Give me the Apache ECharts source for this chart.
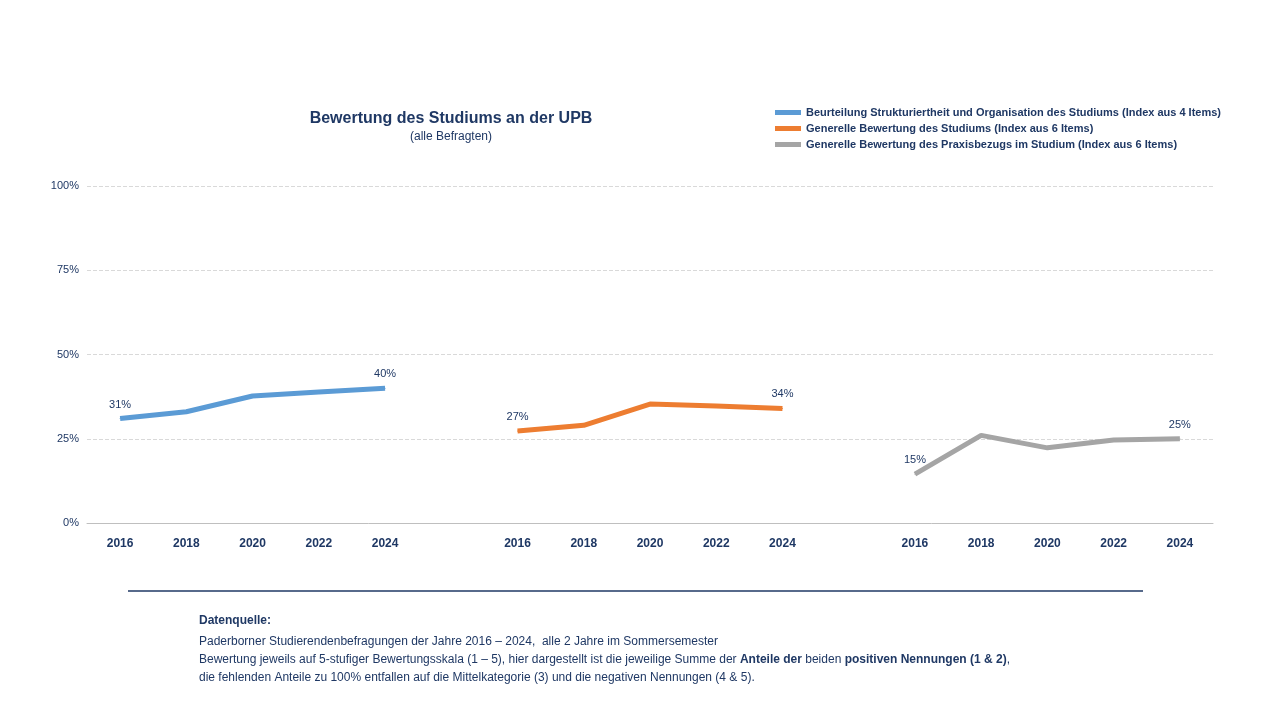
<!DOCTYPE html>
<html><head><meta charset="utf-8">
<script src="https://cdn.jsdelivr.net/npm/echarts@6/dist/echarts.min.js"></script>
<style>html,body{margin:0;background:#fff}#c{width:1273px;height:717px}</style>
</head><body><div id="c"></div>
<script>
var years = ['2016','2018','2020','2022','2024'];
var categories = years.concat(['']).concat(years).concat([' ']).concat(years);
var struktur = [31, 33, 37.7, 38.9, 40];
var bewertung = [27.3, 29, 35.3, 34.7, 34];
var praxis = [14.5, 26, 22.3, 24.6, 25];
var yTicks = [0, 25, 50, 75, 100];
var names = [
  'Beurteilung Strukturiertheit und Organisation des Studiums (Index aus 4 Items)',
  'Generelle Bewertung des Studiums (Index aus 6 Items)',
  'Generelle Bewertung des Praxisbezugs im Studium (Index aus 6 Items)'
];
var colors = ['#5B9BD5', '#ED7D31', '#A5A5A5'];
var navy = '#1F3864';
var font = 'Liberation Sans';

function place(vals, offset){
  var arr = [];
  for (var i = 0; i < categories.length; i++) arr.push(null);
  vals.forEach(function(v, i){ arr[offset + i] = v; });
  return arr;
}
function labelFn(offset){
  return function(p){
    if (p.dataIndex === offset || p.dataIndex === offset + 4) return Math.round(p.value) + '%';
    return '';
  };
}
var series = [struktur, bewertung, praxis].map(function(vals, k){
  var off = k * 6;
  return {
    name: names[k], type: 'line', data: place(vals, off), symbol: 'none', showSymbol: false,
    lineStyle: {width: 5, color: colors[k]}, itemStyle: {color: colors[k]},
    label: {show: true, position: 'top', distance: 8, formatter: labelFn(off), color: navy, fontSize: 11, fontFamily: font},
    labelLayout: {hideOverlap: false}
  };
});
// labels need symbols to render; use tiny invisible symbols
series.forEach(function(s){ s.showSymbol = true; s.symbol = 'circle'; s.symbolSize = 1; });

var chart = echarts.init(document.getElementById('c'));
chart.setOption({
  animation: false,
  textStyle: {fontFamily: font},
  title: {text: 'Bewertung des Studiums an der UPB', subtext: '(alle Befragten)', left: 446, top: 106, textAlign: 'center',
    itemGap: 4,
    textStyle: {color: navy, fontSize: 16, fontWeight: 'bold', fontFamily: font},
    subtextStyle: {color: navy, fontSize: 12, fontFamily: font}},
  legend: {orient: 'vertical', left: 770, top: 102, itemGap: 5, itemWidth: 26, itemHeight: 5, icon: 'rect',
    textStyle: {color: navy, fontSize: 11, fontWeight: 'bold', fontFamily: font}, data: names},
  grid: {left: 87, right: 60, top: 186, bottom: 194},
  xAxis: {type: 'category', data: categories, boundaryGap: true,
    axisLine: {lineStyle: {color: '#BFBFBF'}}, axisTick: {show: false},
    axisLabel: {color: navy, fontWeight: 'bold', fontSize: 12, margin: 15, interval: 0}},
  yAxis: {type: 'value', min: 0, max: 100, interval: 25,
    axisLabel: {formatter: '{value}%', color: navy, fontSize: 11, margin: 8},
    splitLine: {lineStyle: {color: '#D9D9D9', type: 'dashed'}}},
  series: series,
  graphic: [
    {type: 'line', shape: {x1: 128, y1: 591, x2: 1143, y2: 591}, style: {stroke: navy, lineWidth: 1.5}},
    {type: 'text', left: 199, top: 615, style: {text: 'Datenquelle:', fill: navy, font: 'bold 12px ' + font}},
    {type: 'text', left: 199, top: 633, style: {fill: navy, font: '12px ' + font, lineHeight: 18,
      rich: {b: {fontWeight: 'bold', fill: navy, font: 'bold 12px ' + font}},
      text: 'Paderborner Studierendenbefragungen der Jahre 2016 – 2024,  alle 2 Jahre im Sommersemester\n' +
            'Bewertung jeweils auf 5-stufiger Bewertungsskala (1 – 5), hier dargestellt ist die jeweilige Summe der {b|Anteile der} beiden {b|positiven Nennungen (1 & 2)},\n' +
            'die fehlenden Anteile zu 100% entfallen auf die Mittelkategorie (3) und die negativen Nennungen (4 & 5).'}}
  ]
});
</script></body></html>
